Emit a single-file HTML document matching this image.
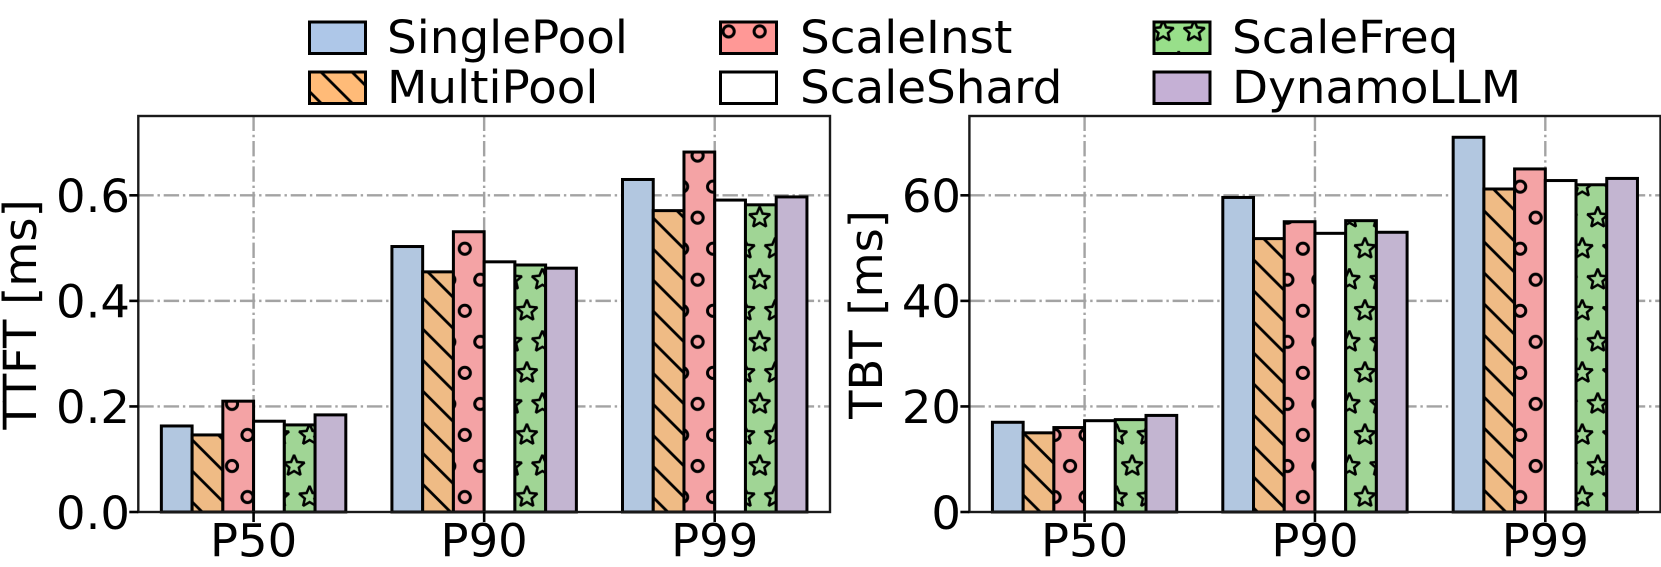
<!DOCTYPE html>
<html>
<head>
<meta charset="utf-8">
<title>TTFT and TBT latency by scaling strategy</title>
<style>
html,body{margin:0;padding:0;background:#fff;width:1661px;height:567px;overflow:hidden}
svg{display:block}
text{font-family:"DejaVu Sans","Liberation Sans",sans-serif;fill:#000}
</style>
</head>
<body>
<svg id="figure" xmlns="http://www.w3.org/2000/svg" width="1661" height="567" viewBox="0 0 1661 567">
  <defs>
    <pattern id="hatch-diag" patternUnits="userSpaceOnUse" x="0" y="30.4" width="31.04" height="31.04">
      <line x1="-5" y1="-5" x2="36.04" y2="36.04" stroke="#000" stroke-width="2.8"/>
      <line x1="-5" y1="26.04" x2="5" y2="36.04" stroke="#000" stroke-width="2.8"/>
      <line x1="26.04" y1="-5" x2="36.04" y2="5" stroke="#000" stroke-width="2.8"/>
    </pattern>
    <pattern id="hatch-circle" patternUnits="userSpaceOnUse" x="224.24" y="450.48" width="31.04" height="62.08">
      <circle cx="7.76" cy="15.52" r="5.6" fill="none" stroke="#000" stroke-width="3"/>
      <circle cx="23.28" cy="46.56" r="5.6" fill="none" stroke="#000" stroke-width="3"/>
    </pattern>
    <polygon id="star-shape" points="0,-11 2.94,-4.05 10.46,-3.4 4.76,1.55 6.47,8.9 0,5 -6.47,8.9 -4.76,1.55 -10.46,-3.4 -2.94,-4.05" fill="none" stroke="#000" stroke-width="2.5" stroke-linejoin="miter" stroke-miterlimit="2.5"/>
    <pattern id="hatch-star" patternUnits="userSpaceOnUse" x="224.24" y="450.48" width="31.04" height="62.08">
      <use href="#star-shape" x="7.76" y="15.52"/>
      <use href="#star-shape" x="38.8" y="15.52"/>
      <use href="#star-shape" x="23.28" y="46.56"/>
      <use href="#star-shape" x="-7.76" y="46.56"/>
    </pattern>
  </defs>

  <g>
    <g>
      <rect x="309.5" y="22" width="56" height="31.5" fill="#aec7e8" stroke="#000" stroke-width="3"/>
      <text transform="translate(387 53) scale(1.03 1)" font-size="45.5">SinglePool</text>
    </g>
    <g>
      <rect x="309.5" y="72" width="56" height="31.5" fill="#ffbb78"/>
      <rect x="309.5" y="72" width="56" height="31.5" fill="url(#hatch-diag)" stroke="#000" stroke-width="3"/>
      <text transform="translate(387 103) scale(1.03 1)" font-size="45.5">MultiPool</text>
    </g>
    <g>
      <rect x="720.5" y="22" width="56" height="31.5" fill="#ff9896"/>
      <rect x="720.5" y="22" width="56" height="31.5" fill="url(#hatch-circle)" stroke="#000" stroke-width="3"/>
      <text transform="translate(800 53) scale(1.03 1)" font-size="45.5">ScaleInst</text>
    </g>
    <g>
      <rect x="720.5" y="72" width="56" height="31.5" fill="#ffffff" stroke="#000" stroke-width="3"/>
      <text transform="translate(800 103) scale(1.03 1)" font-size="45.5">ScaleShard</text>
    </g>
    <g>
      <rect x="1154" y="22" width="56" height="31.5" fill="#98df8a"/>
      <rect x="1154" y="22" width="56" height="31.5" fill="url(#hatch-star)" stroke="#000" stroke-width="3"/>
      <text transform="translate(1232 53) scale(1.03 1)" font-size="45.5">ScaleFreq</text>
    </g>
    <g>
      <rect x="1154" y="72" width="56" height="31.5" fill="#c5b0d5" stroke="#000" stroke-width="3"/>
      <text transform="translate(1232 103) scale(1.03 1)" font-size="45.5">DynamoLLM</text>
    </g>
  </g>

  <text transform="translate(36 314.5) rotate(-90) scale(1.02 1)" text-anchor="middle" font-size="45.5">TTFT [ms]</text>
  <text transform="translate(882 314.5) rotate(-90) scale(1.02 1)" text-anchor="middle" font-size="45.5">TBT [ms]</text>
</svg>

<script>
var categories = ['P50', 'P90', 'P99'];

var ttftTickLabels = ['0.0', '0.2', '0.4', '0.6'];
var ttftTickValues = [0, 0.2, 0.4, 0.6];
var ttftSinglePool = [0.163, 0.503, 0.630];
var ttftMultiPool = [0.146, 0.455, 0.571];
var ttftScaleInst = [0.210, 0.531, 0.682];
var ttftScaleShard = [0.172, 0.474, 0.591];
var ttftScaleFreq = [0.165, 0.468, 0.582];
var ttftDynamoLLM = [0.184, 0.462, 0.597];
var ttftAxisMax = [0.7503];

var tbtTickLabels = ['0', '20', '40', '60'];
var tbtTickValues = [0, 20, 40, 60];
var tbtSinglePool = [17.0, 59.6, 71.0];
var tbtMultiPool = [15.0, 51.8, 61.2];
var tbtScaleInst = [16.0, 55.0, 65.0];
var tbtScaleShard = [17.3, 52.8, 62.8];
var tbtScaleFreq = [17.5, 55.2, 62.0];
var tbtDynamoLLM = [18.3, 53.0, 63.2];
var tbtAxisMax = [75.03];

var seriesNames = ['singlepool', 'multipool', 'scaleinst', 'scaleshard', 'scalefreq', 'dynamollm'];
var seriesFills = ['#b2c7e0', '#efbb85', '#f4a3a5', '#ffffff', '#a0d595', '#c3b5d1'];
var seriesHatches = ['', 'hatch-diag', 'hatch-circle', '', 'hatch-star', ''];

var NS = 'http://www.w3.org/2000/svg';
var figure = document.getElementById('figure');

function make(parent, tag, attrs) {
  var el = document.createElementNS(NS, tag);
  for (var k in attrs) { el.setAttribute(k, attrs[k]); }
  parent.appendChild(el);
  return el;
}

function drawChart(prefix, box, series, tickValues, tickLabels, axisMax, tickTextX) {
  var chart = make(figure, 'g', {});
  
  

  function xScale(position) {
    return box.left + (position + 0.5) / categories.length * (box.right - box.left);
  }
  function yScale(value) {
    return box.bottom - value / axisMax * (box.bottom - box.top);
  }
  var slotWidth = xScale(1) - xScale(0);
  var barWidth = slotWidth * 0.8 / series.length;

  var gridStyle = {stroke: '#a3a3a3', 'stroke-width': 2.4, 'stroke-dasharray': '15.4 3.8 2.4 3.8'};

  tickValues.forEach(function (value, i) {
    if (value === 0) { return; }
    var attrs = {x1: box.left, x2: box.right, y1: yScale(value), y2: yScale(value)};
    for (var k in gridStyle) { attrs[k] = gridStyle[k]; }
    var line = make(chart, 'line', attrs);
    
    
  });

  categories.forEach(function (cat, c) {
    var attrs = {x1: xScale(c), x2: xScale(c), y1: box.bottom, y2: box.top};
    for (var k in gridStyle) { attrs[k] = gridStyle[k]; }
    var line = make(chart, 'line', attrs);
    
    
  });

  series.forEach(function (values, s) {
    values.forEach(function (value, c) {
      var x = xScale(c) + (s - series.length / 2) * barWidth;
      var y = yScale(value);
      var h = box.bottom - y;
      var bar = make(chart, 'g', {});
      
      
      make(bar, 'rect', {x: x, y: y, width: barWidth, height: h, fill: seriesFills[s]});
      if (seriesHatches[s]) {
        make(bar, 'rect', {x: x, y: y, width: barWidth, height: h, fill: 'url(#' + seriesHatches[s] + ')'});
      }
      make(bar, 'rect', {x: x, y: y, width: barWidth, height: h, fill: 'none', stroke: '#000', 'stroke-width': 3});
    });
  });

  var frame = make(chart, 'rect', {x: box.left, y: box.top, width: box.right - box.left, height: box.bottom - box.top, fill: 'none', stroke: '#1a1a1a', 'stroke-width': 2.4});
  
  

  tickValues.forEach(function (value, i) {
    var y = yScale(value);
    var tick = make(chart, 'line', {x1: box.left - 9, x2: box.left, y1: y, y2: y, stroke: '#000', 'stroke-width': 2.6});
    
    
    var label = make(chart, 'text', {transform: 'translate(' + tickTextX + ' ' + (y + 16.8) + ') scale(1.022 1)', 'text-anchor': 'end', 'font-size': 45.5});
    
    
    label.textContent = tickLabels[i];
  });

  categories.forEach(function (cat, c) {
    var x = xScale(c);
    var tick = make(chart, 'line', {x1: x, x2: x, y1: box.bottom, y2: box.bottom + 10, stroke: '#000', 'stroke-width': 2.6});
    
    
    var label = make(chart, 'text', {transform: 'translate(' + x + ' 556.5) scale(1.022 1)', 'text-anchor': 'middle', 'font-size': 45.5});
    
    
    label.textContent = cat;
  });
}

drawChart('ttft', {left: 138.3, right: 830, top: 116, bottom: 512},
  [ttftSinglePool, ttftMultiPool, ttftScaleInst, ttftScaleShard, ttftScaleFreq, ttftDynamoLLM],
  ttftTickValues, ttftTickLabels, ttftAxisMax[0], 130);

drawChart('tbt', {left: 969.4, right: 1660.5, top: 116, bottom: 512},
  [tbtSinglePool, tbtMultiPool, tbtScaleInst, tbtScaleShard, tbtScaleFreq, tbtDynamoLLM],
  tbtTickValues, tbtTickLabels, tbtAxisMax[0], 961);
</script>
</body>
</html>
